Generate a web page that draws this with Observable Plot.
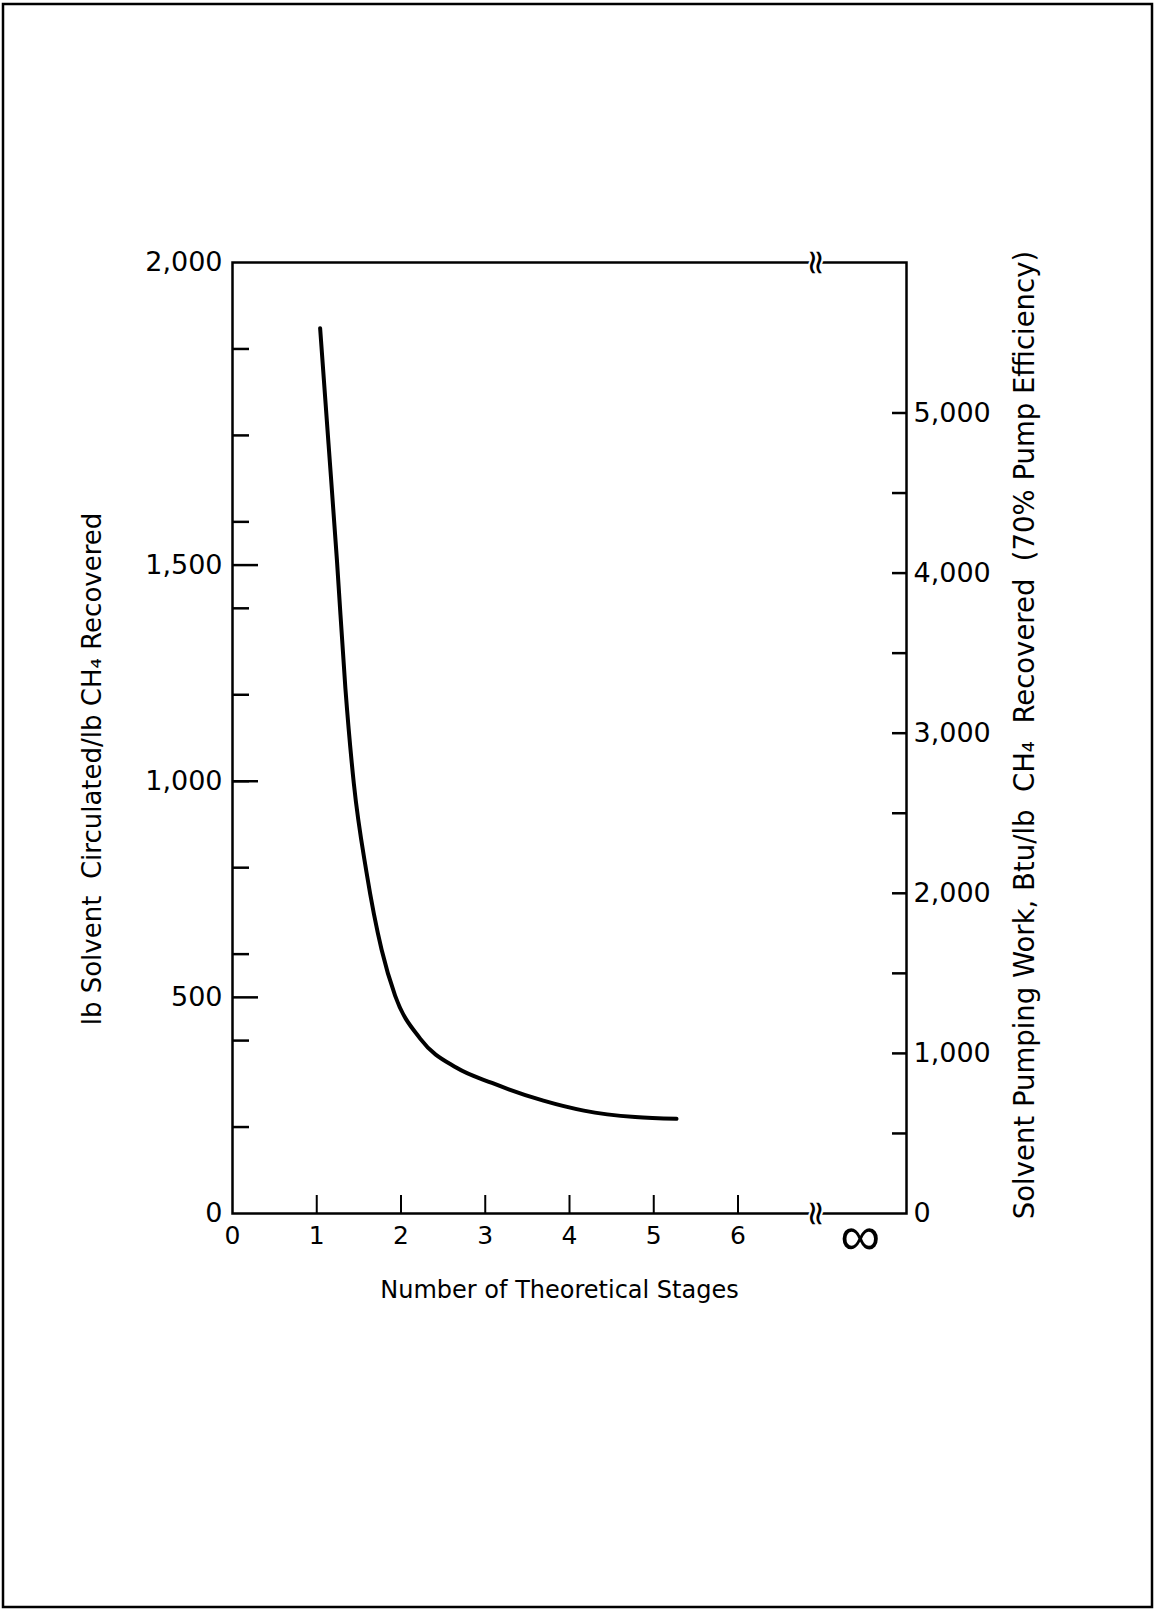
<!DOCTYPE html>
<html><head><meta charset="utf-8">
<script src="https://cdn.jsdelivr.net/npm/d3@7"></script>
<script src="https://cdn.jsdelivr.net/npm/@observablehq/plot@0.6"></script>
<style>
html,body{margin:0;padding:0;background:#fff;overflow:hidden}
#chart{position:relative;width:1156px;height:1611px}
</style>
</head><body><div id="chart"></div>
<script>
// ---- data ----
const stages    = [1.04, 1.14, 1.24, 1.34, 1.44, 1.59, 1.77, 1.93, 2.23, 2.66, 3.08, 3.69, 4.17, 4.78, 5.27];
const solventLb = [2048, 1780, 1510, 1215, 995, 790, 610, 504, 404, 337, 302, 261, 238, 223, 219];

const xTickValues  = [1, 2, 3, 4, 5, 6];
const xLabelValues = [0, 1, 2, 3, 4, 5, 6];
const xMax = 8;
const xBreak = 6.92;
const xInfinity = 7.45;
const infinityLabel = "\u221E";

const yMax = 2200;
const leftMinorTicks  = [200, 400, 600, 800, 1000, 1200, 1400, 1600, 1800, 2000];
const leftMajorTicks  = [500, 1000, 1500];
const leftLabelValues = [0, 500, 1000, 1500, 2200];
const leftLabelTexts  = ["0", "500", "1,000", "1,500", "2,000"];

const btuPerLb = 2.70;
const rightTickBtu  = [500, 1000, 1500, 2000, 2500, 3000, 3500, 4000, 4500, 5000];
const rightLabelBtu = [0, 1000, 2000, 3000, 4000, 5000];

const xTitle = "Number of Theoretical Stages";
const leftTitle = "lb Solvent\u00a0\u00a0Circulated/lb CH\u2084 Recovered";
const rightTitle = "Solvent Pumping Work, Btu/lb\u00a0\u00a0CH\u2084\u00a0\u00a0Recovered\u00a0\u00a0(70% Pump Efficiency)";

// ---- build ----
const curve = stages.map((s, i) => ({stage: s, lb: solventLb[i]}));
const breaks = [{x: xBreak, y: yMax}, {x: xBreak, y: 0}];
const fmt = d3.format(",");

const chart = Plot.plot({
  width: 1156,
  height: 1611,
  marginLeft: 232,
  marginRight: 250,
  marginTop: 262,
  marginBottom: 398,
  style: {fontFamily: "DejaVu Sans", fontSize: "24px", color: "black", background: "white", overflow: "visible"},
  x: {domain: [0, xMax]},
  y: {domain: [0, yMax]},
  marks: [
    Plot.frame({stroke: "black", strokeWidth: 2.5}),
    // x axis ticks (inward) and labels
    Plot.axisX(xTickValues, {anchor: "bottom", tickSize: -18, strokeWidth: 2, fill: "none", label: null}),
    Plot.axisX(xLabelValues, {anchor: "bottom", tickSize: 0, tickPadding: 13, fontSize: 25, label: null, tickFormat: d => String(d)}),
    // left axis
    Plot.axisY(leftMinorTicks, {anchor: "left", tickSize: -17, strokeWidth: 2.5, fill: "none", label: null}),
    Plot.axisY(leftMajorTicks, {anchor: "left", tickSize: -26, strokeWidth: 2.5, fill: "none", label: null}),
    Plot.axisY(leftLabelValues, {anchor: "left", tickSize: 0, tickPadding: 10, fontSize: 27, label: null,
      tickFormat: d => leftLabelTexts[leftLabelValues.indexOf(d)]}),
    // right axis (Btu scale)
    Plot.axisY(rightTickBtu.map(v => v / btuPerLb), {anchor: "right", tickSize: -15, strokeWidth: 2.5, fill: "none", label: null}),
    Plot.axisY(rightLabelBtu.map(v => v / btuPerLb), {anchor: "right", tickSize: 0, tickPadding: 7, fontSize: 27, label: null,
      tickFormat: d => fmt(Math.round(d * btuPerLb))}),
    // curve
    Plot.line(curve, {x: "stage", y: "lb", curve: "monotone-x", stroke: "black", strokeWidth: 4}),
    // axis breaks
    Plot.text(breaks, {x: "x", y: "y", text: () => "\u2248", rotate: 90, fontSize: 34, fill: "black", stroke: "white", strokeWidth: 4}),
    // infinity
    Plot.text([{x: xInfinity, y: 0}], {x: "x", y: "y", text: () => infinityLabel, dy: 24, fontSize: 56, rotate: 0,
      fontFamily: "Liberation Sans", fill: "black", ariaLabel: "infinity"}),
    // titles
    Plot.text([leftTitle], {frameAnchor: "left", textAnchor: "middle", lineAnchor: "middle", dx: -140, dy: 31, rotate: -90, fontSize: 26, fill: "black"}),
    Plot.text([rightTitle], {frameAnchor: "right", textAnchor: "middle", lineAnchor: "middle", dx: 119, dy: -3, rotate: -90, fontSize: 27.5, fill: "black"}),
    Plot.text([xTitle], {frameAnchor: "bottom", textAnchor: "middle", lineAnchor: "middle", dx: -10, dy: 77, fontSize: 24, fill: "black"})
  ]
});

d3.select(chart).selectAll("g[aria-label='infinity'] text").each(function() {
  const t = this.getAttribute("transform") || "";
  this.setAttribute("transform", t + " scale(1.15,0.6)");
});

// page border
d3.select(chart).append("rect")
  .attr("x", 3).attr("y", 4).attr("width", 1149).attr("height", 1603)
  .attr("fill", "none").attr("stroke", "black").attr("stroke-width", 2.5);

document.getElementById("chart").appendChild(chart);
</script>
</body></html>
